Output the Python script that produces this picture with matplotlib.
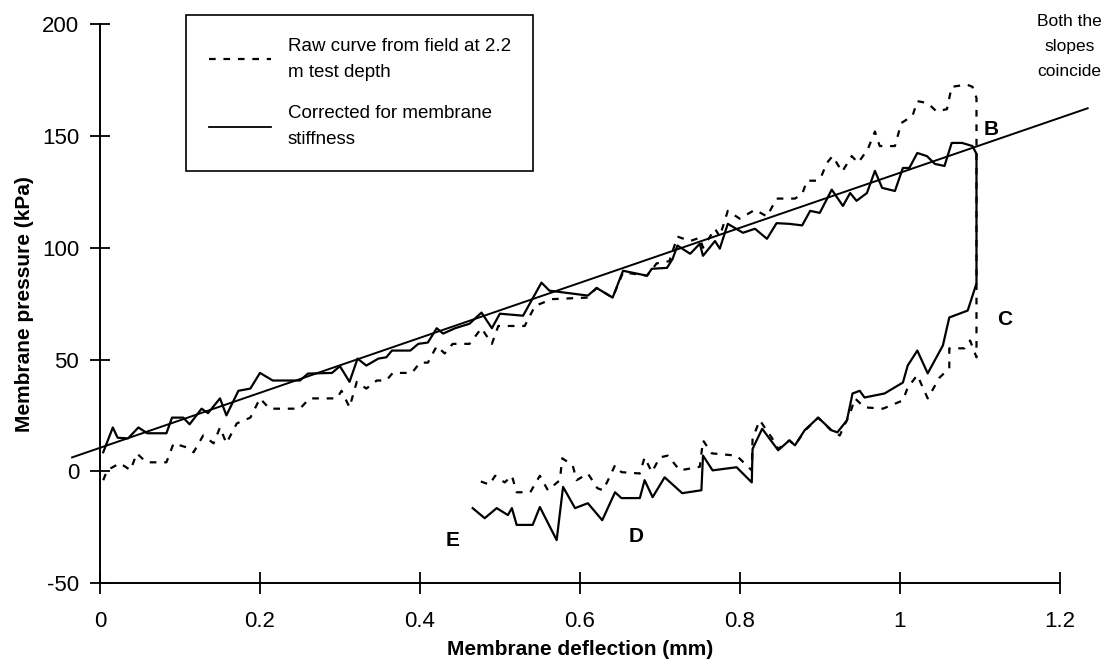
import numpy as np
import matplotlib.pyplot as plt
from matplotlib.lines import Line2D

plt.rcParams['font.family'] = ['Liberation Sans', 'DejaVu Sans']
plt.rcParams['axes.unicode_minus'] = False

# ---- pressuremeter test at 2.2 m: membrane deflection (mm) vs pressure (kPa) ----

# raw field curve, loading then unloading
raw_defl = [0.004, 0.009, 0.025, 0.038, 0.046, 0.058, 0.083, 0.092, 0.108, 0.117,
            0.129, 0.142, 0.150, 0.158, 0.171, 0.188, 0.200, 0.212, 0.250, 0.262,
            0.296, 0.302, 0.312, 0.321, 0.333, 0.346, 0.358, 0.366, 0.390, 0.400,
            0.410, 0.421, 0.431, 0.441, 0.462, 0.477, 0.490, 0.498, 0.531, 0.544,
            0.565, 0.609, 0.621, 0.641, 0.654, 0.684, 0.696, 0.712, 0.722, 0.738,
            0.750, 0.754, 0.769, 0.775, 0.785, 0.800, 0.819, 0.834, 0.846, 0.869,
            0.878, 0.884, 0.896, 0.902, 0.909, 0.916, 0.928, 0.940, 0.948, 0.960,
            0.969, 0.975, 0.994, 1.002, 1.016, 1.022, 1.035, 1.046, 1.059, 1.065,
            1.084, 1.091, 1.096, 1.096,
            1.088, 1.081, 1.062, 1.062, 1.050, 1.035, 1.022, 1.010, 1.004, 0.979,
            0.956, 0.944, 0.938, 0.925, 0.915, 0.898, 0.881, 0.869, 0.862, 0.848,
            0.840, 0.825, 0.816, 0.815, 0.796, 0.765, 0.754, 0.750, 0.725, 0.710,
            0.700, 0.690, 0.681, 0.675, 0.652, 0.644, 0.638, 0.629, 0.622, 0.610,
            0.596, 0.591, 0.578, 0.575, 0.560, 0.550, 0.538, 0.521, 0.515, 0.506,
            0.494, 0.487, 0.472]
raw_pres = [-4, 0.5, 3.6, 0.5, 8, 4, 4, 12.5, 10.7, 8.5,
            16, 12.5, 19.6, 12.5, 21.4, 24, 32.6, 28, 28, 32.6,
            32.6, 36, 28.6, 40, 37, 40.6, 40.6, 44, 44, 48.6,
            48.6, 56, 52.7, 57, 57, 64, 57, 65, 65, 74,
            77, 77.7, 82, 77.7, 89, 87.5, 93, 94, 105, 103,
            104.5, 100, 108.5, 105, 116.5, 113, 117, 114, 122, 122,
            124, 130, 130, 132, 138, 141, 134, 141, 138, 144,
            152, 145.5, 145.5, 155.8, 159, 165.6, 164.7, 161, 162, 172,
            173, 172, 167, 51,
            58.5, 55, 55, 46, 42, 32.6, 43, 37.5, 31.7, 28,
            28.6, 32.6, 26, 16, 18, 24, 18, 11.6, 13.8, 10,
            15, 22.8, 14.7, 0.4, 7, 8, 13.8, 2, 0.4, 7,
            6.2, -0.4, 6.2, -1, -0.4, 2.7, -2, -8.5, -7.6, -1,
            -4, 2.7, 5.8, -4, -8.5, -2, -9.4, -9.4, -2, -5,
            -2, -6, -4]

# curve corrected for membrane stiffness, loading then unloading
corr_defl = [0.004, 0.016, 0.022, 0.035, 0.048, 0.059, 0.083, 0.090, 0.104, 0.112,
             0.127, 0.135, 0.150, 0.158, 0.173, 0.188, 0.200, 0.216, 0.250, 0.260,
             0.290, 0.300, 0.312, 0.322, 0.333, 0.348, 0.358, 0.365, 0.388, 0.398,
             0.410, 0.421, 0.429, 0.444, 0.462, 0.477, 0.490, 0.500, 0.529, 0.552,
             0.562, 0.610, 0.621, 0.641, 0.654, 0.684, 0.690, 0.709, 0.716, 0.722,
             0.738, 0.750, 0.754, 0.769, 0.775, 0.785, 0.804, 0.819, 0.834, 0.846,
             0.862, 0.878, 0.888, 0.900, 0.915, 0.929, 0.938, 0.946, 0.959, 0.969,
             0.978, 0.994, 1.004, 1.012, 1.022, 1.034, 1.044, 1.056, 1.065, 1.078,
             1.091, 1.096, 1.096,
             1.085, 1.062, 1.054, 1.035, 1.022, 1.010, 1.004, 0.981, 0.956, 0.950,
             0.941, 0.934, 0.922, 0.915, 0.898, 0.881, 0.869, 0.862, 0.848, 0.828,
             0.816, 0.815, 0.796, 0.766, 0.754, 0.752, 0.728, 0.706, 0.691, 0.681,
             0.675, 0.652, 0.644, 0.628, 0.610, 0.594, 0.579, 0.571, 0.550, 0.541,
             0.521, 0.515, 0.510, 0.496, 0.481, 0.466]
corr_pres = [8.5, 19.6, 15, 14.7, 19.6, 17, 17, 24, 24, 21,
             28, 26, 32.6, 25, 36, 37, 44, 40.6, 40.6, 43.7,
             44, 47, 40, 50.4, 47.3, 50.4, 51, 54, 54, 57,
             57.6, 64, 61.6, 64, 66, 71, 64, 70.5, 69.6, 84.4,
             80.8, 78.6, 82, 77.7, 89.7, 87.5, 90.6, 91, 95, 101,
             97.3, 101.8, 96.4, 103, 99.6, 110.7, 106.7, 108.5, 104, 111,
             110.7, 110, 116.5, 115.6, 126, 118.7, 124.5, 121, 124.5, 134.4,
             126.8, 125.4, 135.7, 135.7, 142.4, 141, 137.5, 136.6, 146.9, 146.9,
             145.5, 142, 84,
             71.9, 68.8, 56.3, 43.8, 54, 47.3, 39.7, 34.8, 33, 36,
             34.8, 22.8, 17.4, 18.3, 24, 18.3, 11.6, 13.8, 9.4, 19,
             10, -5, 1.8, 0.4, 7, -8.5, -9.8, -2.7, -11.6, -4,
             -12, -12, -9.4, -21.9, -14.3, -16.5, -7, -30.8, -16, -24,
             -24, -16.5, -19.6, -16.5, -21, -16.5]

# straight line fitted to the reloading slope
fit_defl = [-0.035, 1.235]
fit_pres = [6.2, 162.4]

x_ticks = [0, 0.2, 0.4, 0.6, 0.8, 1.0, 1.2]
x_tick_labels = ['0', '0.2', '0.4', '0.6', '0.8', '1', '1.2']
y_ticks = [-50, 0, 50, 100, 150, 200]

# point labels on the loop
point_names = ['B', 'C', 'D', 'E']
point_x = [1.115, 1.131, 0.670, 0.441]
point_y = [153, 68, -29, -31]

fig = plt.figure(figsize=(11.03, 6.66), dpi=100)
ax = fig.add_axes([0.0907, 0.1246, 0.870, 0.839])

ax.plot(raw_defl, raw_pres, color='black', lw=1.6, linestyle=(0, (3, 3.5)))
ax.plot(corr_defl, corr_pres, color='black', lw=1.6)
ax.plot(fit_defl, fit_pres, color='black', lw=1.4, clip_on=False)

ax.set_xlim(0, 1.2)
ax.set_ylim(-50, 200)
ax.set_xticks(x_ticks)
ax.set_xticklabels(x_tick_labels)
ax.set_yticks(y_ticks)

for side in ['top', 'right']:
    ax.spines[side].set_visible(False)
for side in ['left', 'bottom']:
    ax.spines[side].set_linewidth(1.4)
ax.tick_params(axis='x', direction='inout', length=16, width=1.3, pad=12, labelsize=16)
ax.tick_params(axis='y', direction='inout', length=14, width=1.3, pad=8, labelsize=16)

ax.set_xlabel('Membrane deflection (mm)', fontsize=15, fontweight='bold', labelpad=6)
ax.set_ylabel('Membrane pressure (kPa)', fontsize=15, fontweight='bold', labelpad=6)

for name, px, py in zip(point_names, point_x, point_y):
    ax.text(px, py, name, fontsize=15, fontweight='bold', ha='center', va='center')

ax.text(1.212, 190, 'Both the\nslopes\ncoincide', fontsize=12.5, ha='center', va='center',
        linespacing=1.85, clip_on=False)

handles = [Line2D([], [], color='black', lw=1.6, linestyle=(0, (3, 3.5))),
           Line2D([], [], color='black', lw=1.3)]
labels = ['Raw curve from field at 2.2\nm test depth',
          'Corrected for membrane\nstiffness']
leg = ax.legend(handles, labels, loc='upper left', bbox_to_anchor=(0.09, 1.016),
                fontsize=13.5, frameon=True, fancybox=False, framealpha=1,
                edgecolor='black', handlelength=3.3, handletextpad=0.9,
                borderpad=1.2, labelspacing=1.3, borderaxespad=0)
leg.get_frame().set_linewidth(1.2)
for t in leg.get_texts():
    t.set_linespacing(1.7)

fig.savefig('out.png', dpi=100)
